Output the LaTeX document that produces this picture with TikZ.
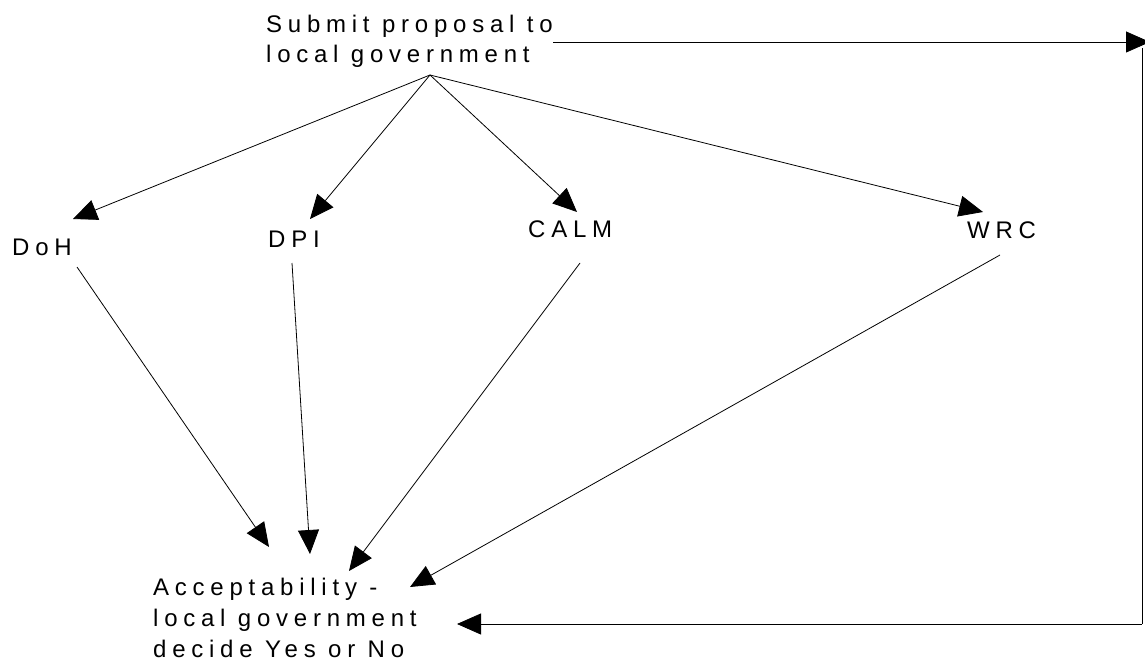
\documentclass[tikz,border=0pt]{standalone}
\usepackage{fontspec}
\setmainfont{Liberation Sans}[LetterSpace=24]
\usetikzlibrary{arrows.meta,calc}
\begin{document}
\begin{tikzpicture}[x=1pt,y=-1pt,
  lbl/.style={inner sep=0pt,anchor=base west,align=left,font=\fontsize{24}{31}\selectfont},
  arr/.style={line width=0.8pt,-{Triangle[length=24pt,width=21pt]}},
  ln/.style={line width=0.8pt}]
\useasboundingbox (0,0) rectangle (1145,663);
\node[lbl] (top) at (266,63) {Submit proposal to\\[-1pt]local government};
\node[lbl] (doh) at (12,255) {DoH};
\node[lbl] (dpi) at (268,247) {DPI};
\node[lbl] (calm) at (528,237) {CALM};
\node[lbl] (wrc) at (967,238) {WRC};
\node[lbl] (acc) at (153,657) {Acceptability -\\local government\\decide Yes or No};
\coordinate (fork) at ($(top.base west)+(164,12)$);
\coordinate (ne) at (1150,42);
\coordinate (ner) at (1142,48);
\coordinate (se) at (1142,624);
% from proposal to agencies
\draw[arr] (fork) -- ($(doh.base west)+(61,-36)$);
\draw[arr] (fork) -- ($(dpi.base west)+(42,-28)$);
\draw[arr] (fork) -- ($(calm.base west)+(49,-25)$);
\draw[arr] (fork) -- ($(wrc.base west)+(16,-26)$);
% from agencies to acceptability
\draw[arr] ($(doh.base west)+(65,12)$) -- ($(acc.base west)+(116,-110)$);
\draw[arr] ($(dpi.base west)+(24,16)$) -- ($(acc.base west)+(157,-103)$);
\draw[arr] ($(calm.base west)+(52,26)$) -- ($(acc.base west)+(196,-86)$);
\draw[arr] ($(wrc.base west)+(33,17)$) -- ($(acc.base west)+(257,-70)$);
% loop on the right
\draw[arr] ($(top.base west)+(287,-21)$) -- (ne);
\draw[ln] (ner) -- (se);
\draw[arr] (se) -- ($(acc.base west)+(304,-33)$);
\end{tikzpicture}
\end{document}
